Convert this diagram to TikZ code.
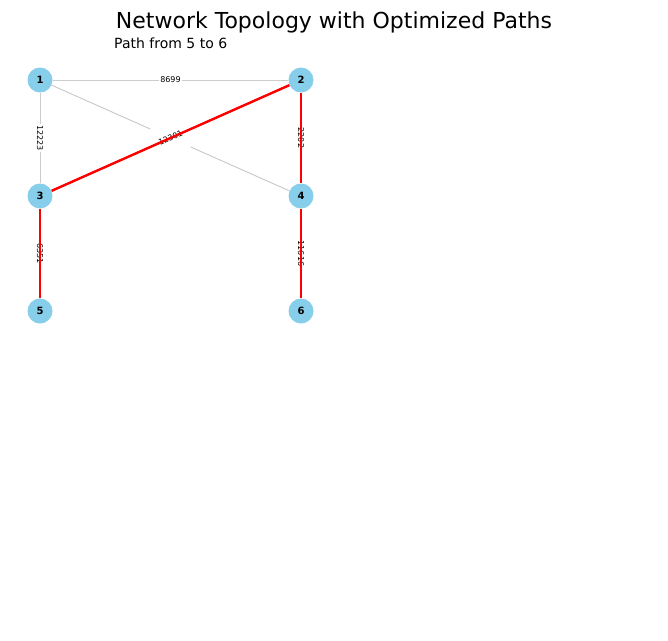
\documentclass[tikz,border=0pt]{standalone}
\usepackage{fontspec}
\setmainfont{DejaVu Sans}
\usetikzlibrary{calc}
\begin{document}
\begin{tikzpicture}[x=1pt,y=-1pt,
  vtx/.style={circle,fill=nodeblue,minimum size=25pt,inner sep=0pt,font=\fontsize{10}{10}\selectfont\bfseries},
  plain/.style={draw=edgegray,line width=1pt},
  hot/.style={draw=red,line width=2.4pt},
  elab/.style={fill=white,inner sep=1.5pt,font=\fontsize{8}{8}\selectfont},
  mask/.style={fill=white,inner sep=0pt,minimum width=44pt,minimum height=10pt}]
\definecolor{nodeblue}{HTML}{87CEEB}
\definecolor{edgegray}{HTML}{CCCCCC}
\useasboundingbox (0,0) rectangle (668,640);
\node[font=\fontsize{22}{22}\selectfont] (title) at (334,22) {Network Topology with Optimized Paths};
\node[anchor=west,font=\fontsize{14}{14}\selectfont,inner sep=0pt] (sub) at (114,43) {Path from 5 to 6};
\node[vtx] (n1) at (40,80) {1};
\node[vtx] (n2) at (301,80) {2};
\node[vtx] (n3) at (40,196) {3};
\node[vtx] (n4) at (301,196) {4};
\node[vtx] (n5) at (40,311) {5};
\node[vtx] (n6) at (301,311) {6};
% gray edges
\draw[plain] (n1) -- (n2);
\draw[plain] (n1) -- (n3);
\draw[plain] (n1) -- (n4);
% labels
\node[mask,rotate=-24] (l14) at ($(n1)!0.5!(n4)$) {};
\node[elab] (l12) at ($(n1)!0.5!(n2)$) {8699};
\node[elab,rotate=-90] (l13) at ($(n1)!0.5!(n3)$) {12223};
\node[elab,rotate=24] (l23) at ($(n3)!0.5!(n2)$) {12301};
\node[elab,rotate=-90] (l24) at ($(n2)!0.5!(n4)$) {2202};
\node[elab,rotate=-90] (l35) at ($(n3)!0.5!(n5)$) {6351};
\node[elab,rotate=-90] (l46) at ($(n4)!0.5!(n6)$) {11616};
% red edges
\draw[hot] (n3) -- (n2);
\draw[hot] (n2) -- (n4);
\draw[hot] (n3) -- (n5);
\draw[hot] (n4) -- (n6);
\end{tikzpicture}
\end{document}
